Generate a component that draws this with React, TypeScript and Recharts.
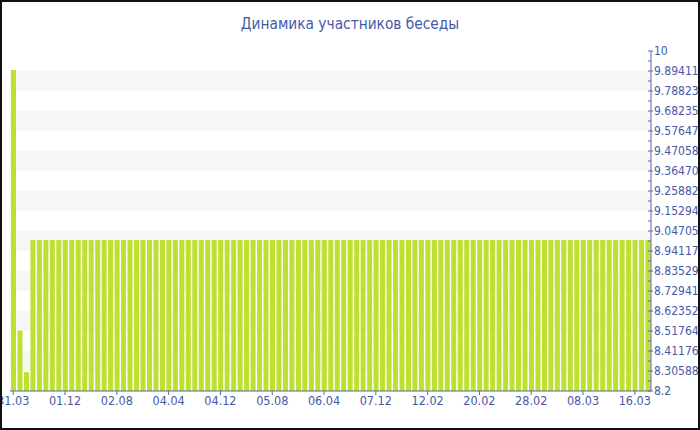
import React from 'react';
import { BarChart, Bar, XAxis, YAxis, CartesianGrid } from 'recharts';

// categories (dd.mm) — only every 8th one is visible on the axis
const dates = [
  '31.03', '01.04', '02.04', '03.04', '04.04', '05.04', '06.04', '07.04',
  '01.12', '02.12', '03.12', '04.12', '05.12', '06.12', '07.12', '08.12',
  '02.08', '03.08', '04.08', '05.08', '06.08', '07.08', '08.08', '09.08',
  '04.04', '05.04', '06.04', '07.04', '08.04', '09.04', '10.04', '11.04',
  '04.12', '05.12', '06.12', '07.12', '08.12', '09.12', '10.12', '11.12',
  '05.08', '06.08', '07.08', '08.08', '09.08', '10.08', '11.08', '12.08',
  '06.04', '07.04', '08.04', '09.04', '10.04', '11.04', '12.04', '13.04',
  '07.12', '08.12', '09.12', '10.12', '11.12', '12.12', '13.12', '14.12',
  '12.02', '13.02', '14.02', '15.02', '16.02', '17.02', '18.02', '19.02',
  '20.02', '21.02', '22.02', '23.02', '24.02', '25.02', '26.02', '27.02',
  '28.02', '01.03', '02.03', '03.03', '04.03', '05.03', '06.03', '07.03',
  '08.03', '09.03', '10.03', '11.03', '12.03', '13.03', '14.03', '15.03',
  '16.03', '17.03', '18.03',
];

const members = [
  9.9, 8.52, 8.3, 9, 9, 9, 9, 9,
  9, 9, 9, 9, 9, 9, 9, 9,
  9, 9, 9, 9, 9, 9, 9, 9,
  9, 9, 9, 9, 9, 9, 9, 9,
  9, 9, 9, 9, 9, 9, 9, 9,
  9, 9, 9, 9, 9, 9, 9, 9,
  9, 9, 9, 9, 9, 9, 9, 9,
  9, 9, 9, 9, 9, 9, 9, 9,
  9, 9, 9, 9, 9, 9, 9, 9,
  9, 9, 9, 9, 9, 9, 9, 9,
  9, 9, 9, 9, 9, 9, 9, 9,
  9, 9, 9, 9, 9, 9, 9, 9,
  9, 9, 9,
];

const yTicks = [
  8.2, 8.305882353, 8.411764706, 8.517647059, 8.623529412, 8.729411765,
  8.835294118, 8.941176471, 9.047058824, 9.152941176, 9.258823529,
  9.364705882, 9.470588235, 9.576470588, 9.682352941, 9.788235294,
  9.894117647, 10,
];

const data = dates.map((date, i) => ({ date, members: members[i] }));

const BLUE = '#4659a6';
const AXIS = '#5568b0';
const FONT = "'DejaVu Sans Condensed', 'DejaVu Sans', sans-serif";
const PLOT_TOP = 51;
const PLOT_H = 340;
const HALF_STEP = PLOT_H / (yTicks.length - 1) / 2;

function YTick(props: any) {
  const { x, y, payload, index } = props;
  return (
    <g>
      <line x1={x - 3} x2={x + 2} y1={y} y2={y} stroke={AXIS} />
      {index > 0 && <line x1={x - 3} x2={x} y1={y + HALF_STEP} y2={y + HALF_STEP} stroke={AXIS} />}
      <text x={x + 3} y={y} dominantBaseline="central" fill={BLUE} fontSize={12} fontFamily={FONT}>
        {String(payload.value)}
      </text>
    </g>
  );
}

function XTick(props: any) {
  const { x, y, payload } = props;
  return (
    <g>
      <line x1={x} x2={x} y1={y} y2={y + 4} stroke={AXIS} />
      <text x={x} y={y + 14} textAnchor="middle" fill={BLUE} fontSize={12.5} fontFamily={FONT}>
        {payload.value}
      </text>
    </g>
  );
}

export default function App() {
  return (
    <div style={{ position: 'absolute', left: 0, top: 0, width: 700, height: 430, background: '#fff' }}>
      <div
        style={{
          position: 'absolute',
          top: 15,
          left: 0,
          width: 700,
          textAlign: 'center',
          color: BLUE,
          fontSize: 15.3,
          fontFamily: FONT,
        }}
      >
        Динамика участников беседы
      </div>
      <BarChart
        width={700}
        height={430}
        data={data}
        margin={{ top: PLOT_TOP, right: 0, left: 10, bottom: 9 }}
        barSize={5}
      >
        <CartesianGrid vertical={false} stroke="none" horizontalFill={['#ffffff', '#f7f7f7']} />
        <XAxis
          dataKey="date"
          interval={7}
          height={30}
          tickSize={0}
          tickMargin={0}
          tickLine={false}
          axisLine={{ stroke: AXIS }}
          tick={<XTick />}
        />
        <YAxis
          orientation="right"
          type="number"
          domain={[8.2, 10]}
          ticks={yTicks}
          interval={0}
          width={49}
          tickSize={0}
          tickMargin={0}
          tickLine={false}
          axisLine={{ stroke: AXIS }}
          tick={<YTick />}
        />
        <Bar dataKey="members" fill="#bce130" isAnimationActive={false} />
      </BarChart>
      <div style={{ position: 'absolute', inset: 0, border: '2px solid #111', pointerEvents: 'none' }} />
    </div>
  );
}
